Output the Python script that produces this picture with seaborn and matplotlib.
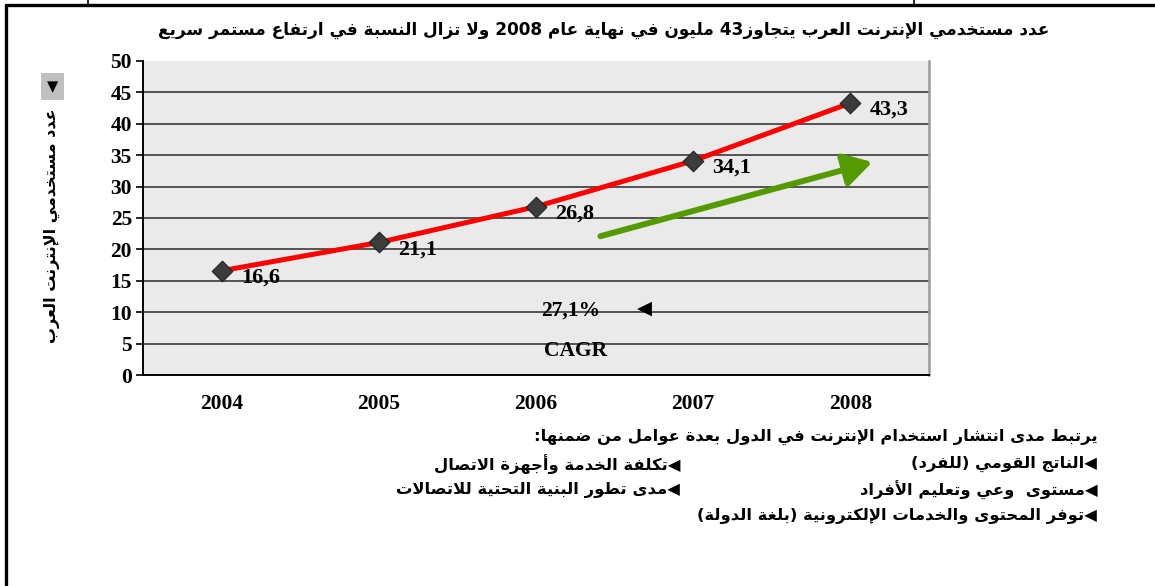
import re
import pandas as pd
import matplotlib
matplotlib.use('Agg')
import matplotlib.pyplot as plt
from matplotlib.lines import Line2D
import seaborn as sns

# data
years = ['2004', '2005', '2006', '2007', '2008']
users = [16.6, 21.1, 26.8, 34.1, 43.3]
value_labels = ['16,6', '21,1', '26,8', '34,1', '43,3']
yticks = [0, 5, 10, 15, 20, 25, 30, 35, 40, 45, 50]

title_text = 'عدد مستخدمي الإنترنت العرب يتجاوز43 مليون في نهاية عام 2008 ولا تزال النسبة في ارتفاع مستمر سريع'
ylabel_text = 'عدد مستخدمي الإنترنت العرب'
cagr_value = '27,1%'
cagr_name = 'CAGR'
intro_text = 'يرتبط مدى انتشار استخدام الإنترنت في الدول بعدة عوامل من ضمنها:'
factors_right = ['◀الناتج القومي (للفرد)',
                 '◀مستوى  وعي وتعليم الأفراد',
                 '◀توفر المحتوى والخدمات الإلكترونية (بلغة الدولة)']
factors_left = ['◀تكلفة الخدمة وأجهزة الاتصال',
                '◀مدى تطور البنية التحتية للاتصالات']

##########################################################################################################################
# small arabic shaper (matplotlib has no shaping / bidi of its own)

FORMS = {0x0621: (0xFE80, 1), 0x0622: (0xFE81, 2), 0x0623: (0xFE83, 2), 0x0624: (0xFE85, 2),
         0x0625: (0xFE87, 2), 0x0626: (0xFE89, 4), 0x0627: (0xFE8D, 2), 0x0628: (0xFE8F, 4),
         0x0629: (0xFE93, 2), 0x062A: (0xFE95, 4), 0x062B: (0xFE99, 4), 0x062C: (0xFE9D, 4),
         0x062D: (0xFEA1, 4), 0x062E: (0xFEA5, 4), 0x062F: (0xFEA9, 2), 0x0630: (0xFEAB, 2),
         0x0631: (0xFEAD, 2), 0x0632: (0xFEAF, 2), 0x0633: (0xFEB1, 4), 0x0634: (0xFEB5, 4),
         0x0635: (0xFEB9, 4), 0x0636: (0xFEBD, 4), 0x0637: (0xFEC1, 4), 0x0638: (0xFEC5, 4),
         0x0639: (0xFEC9, 4), 0x063A: (0xFECD, 4), 0x0641: (0xFED1, 4), 0x0642: (0xFED5, 4),
         0x0643: (0xFED9, 4), 0x0644: (0xFEDD, 4), 0x0645: (0xFEE1, 4), 0x0646: (0xFEE5, 4),
         0x0647: (0xFEE9, 4), 0x0648: (0xFEED, 2), 0x0649: (0xFEEF, 2), 0x064A: (0xFEF1, 4)}
LAM_ALEF = {0x0622: 0xFEF5, 0x0623: 0xFEF7, 0x0625: 0xFEF9, 0x0627: 0xFEFB}
MIRROR = str.maketrans('()', ')(')


def shape(text):
    units = []
    i = 0
    while i < len(text):
        c = ord(text[i])
        if c == 0x0644 and i + 1 < len(text) and ord(text[i + 1]) in LAM_ALEF:
            units.append((LAM_ALEF[ord(text[i + 1])], 2))
            i += 2
            continue
        units.append(FORMS.get(c, text[i]))
        i += 1
    out = []
    for k, u in enumerate(units):
        if isinstance(u, str):
            out.append(u)
            continue
        start, n = u
        prev = units[k - 1] if k > 0 else None
        nxt = units[k + 1] if k + 1 < len(units) else None
        jp = isinstance(prev, tuple) and prev[1] == 4
        jn = n == 4 and isinstance(nxt, tuple)
        if jp and jn:
            f = 3
        elif jp:
            f = 1 if n > 1 else 0
        elif jn:
            f = 2
        else:
            f = 0
        out.append(chr(start + f))
    return ''.join(out)


def ar(text):
    parts = re.split(r'([0-9A-Za-z][0-9A-Za-z,.%]*)', shape(text))
    res = []
    for p in reversed(parts):
        if re.match(r'[0-9A-Za-z]', p):
            res.append(p)
        else:
            res.append(p[::-1].translate(MIRROR))
    return ''.join(res)


##########################################################################################################################

sns.set_style('white')
plt.rcParams['font.family'] = ['DejaVu Sans']
plt.rcParams['text.color'] = 'black'
plt.rcParams['axes.labelcolor'] = 'black'
plt.rcParams['xtick.color'] = 'black'
plt.rcParams['ytick.color'] = 'black'
serif = 'Liberation Serif'

df = pd.DataFrame({'year': years, 'users': users})

fig = plt.figure(figsize=(11.55, 5.86), dpi=100)
ax = fig.add_axes([0.1238, 0.360, 0.6805, 0.536])
ax.set_facecolor('#eaeaea')

sns.lineplot(data=df, x='year', y='users', color='red', linewidth=3.6, ax=ax, zorder=3)
sns.scatterplot(data=df, x='year', y='users', marker='D', s=110, color='#3c3c3c',
                edgecolor='#222222', linewidth=0.8, ax=ax, zorder=4)

for i, (v, lab) in enumerate(zip(users, value_labels)):
    ax.annotate(lab, (i, v), xytext=(14, -5), textcoords='offset points', ha='left', va='center',
                fontsize=16, fontweight='bold', family=serif, zorder=5)

# green trend arrow
ax.annotate('', xy=(4.14, 33.9), xytext=(2.41, 22.1),
            arrowprops=dict(arrowstyle='-|>,head_length=1.7,head_width=1.0', color='#559a00',
                            lw=4.3, shrinkA=0, shrinkB=0), zorder=3)

ax.text(2.22, 10.3, cagr_value, ha='center', va='center', fontsize=15.5, fontweight='bold', family=serif)
ax.text(2.69, 10.6, '◀', ha='center', va='center', fontsize=14)
ax.text(2.25, 3.9, cagr_name, ha='center', va='center', fontsize=15.5, fontweight='bold', family=serif)

ax.set_xlim(-0.5, 4.5)
ax.set_ylim(0, 50)
ax.set_yticks(yticks)
ax.set_yticklabels([str(t) for t in yticks], fontsize=15.5, fontweight='bold', family=serif)
ax.set_xticks(range(len(years)))
ax.set_xticklabels(years, fontsize=15.5, fontweight='bold', family=serif)
ax.set_xticks([i - 0.5 for i in range(len(years) + 1)], minor=True)
ax.tick_params(axis='x', which='major', length=0, pad=14)
ax.tick_params(axis='x', which='minor', length=6, width=1.2, direction='out')
ax.tick_params(axis='y', length=5, width=1.2, direction='out', pad=3, left=True)
ax.set_xlabel('')

for t in yticks[1:-1]:
    ax.axhline(t, color='#3a3a3a', lw=1.2, zorder=1)

ax.spines['top'].set_visible(False)
ax.spines['left'].set_color('black')
ax.spines['left'].set_linewidth(1.4)
ax.spines['bottom'].set_color('black')
ax.spines['bottom'].set_linewidth(1.4)
ax.spines['right'].set_color('#9a9a9a')
ax.spines['right'].set_linewidth(1.8)

ax.set_ylabel(ar(ylabel_text), fontsize=11.5, fontweight='bold', rotation=90)
ax.yaxis.set_label_coords(-0.106, 0.475)

# little dropdown box above the axis title
fig.text(0.0455, 0.852, '▼', ha='center', va='center', fontsize=10.5,
         bbox=dict(boxstyle='square,pad=0.42', facecolor='#c0c0c0', edgecolor='none'))

fig.text(0.523, 0.949, ar(title_text), ha='center', va='center', fontsize=12.2, fontweight='bold')

fig.text(0.950, 0.254, ar(intro_text), ha='right', va='center', fontsize=11.8, fontweight='bold')
for k, line in enumerate(factors_right):
    fig.text(0.950, 0.208 - k * 0.0445, ar(line), ha='right', va='center', fontsize=11.8, fontweight='bold')
for k, line in enumerate(factors_left):
    fig.text(0.589, 0.208 - k * 0.0445, ar(line), ha='right', va='center', fontsize=11.8, fontweight='bold')

# page frame lines
fig.add_artist(Line2D([0.005, 1.0], [0.9915, 0.9915], transform=fig.transFigure, color='black', lw=2.4))
fig.add_artist(Line2D([0.0055, 0.0055], [0.0, 0.9915], transform=fig.transFigure, color='black', lw=2.4))
fig.add_artist(Line2D([0.0765, 0.0765], [0.9915, 1.0], transform=fig.transFigure, color='black', lw=1.2))
fig.add_artist(Line2D([0.7915, 0.7915], [0.9915, 1.0], transform=fig.transFigure, color='black', lw=1.2))

fig.savefig('out.png', dpi=100)
